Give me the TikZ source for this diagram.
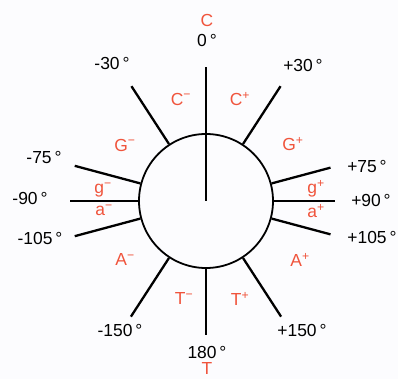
\documentclass[tikz,border=0pt]{standalone}
\usepackage{fontspec}
\setmainfont{Liberation Sans}
\definecolor{torsred}{RGB}{240,84,60}
\definecolor{paper}{RGB}{252,252,254}

\begin{document}
\begin{tikzpicture}[
    x=1bp, y=1bp,
    core/.style={circle, draw=black, line width=1.8bp, minimum size=134bp, inner sep=0pt},
    spoke/.style={draw=black, line width=2.3bp},
    deg/.style={inner sep=0pt, font=\fontsize{17.5}{20}\selectfont, text=black},
    conf/.style={inner sep=0pt, font=\fontsize{17.5}{20}\selectfont, text=torsred}
]

\fill [paper] (0,0) rectangle (398,379);
\useasboundingbox (0,0) rectangle (398,379);

% Circle
\node (ring) [core] at (206,178) {};

% Spokes
\draw [spoke] (ring.center) -- ++(90:134);
\draw [spoke] (ring.123) -- ++(123:69);
\draw [spoke] (ring.57) -- ++(57:69);
\draw [spoke] (ring.165) -- ++(165:68);
\draw [spoke] (ring.180) -- ++(180:68);
\draw [spoke] (ring.195) -- ++(195:68);
\draw [spoke] (ring.15) -- ++(15:61);
\draw [spoke] (ring.0) -- ++(0:61);
\draw [spoke] (ring.345) -- ++(345:61);
\draw [spoke] (ring.237) -- ++(237:70);
\draw [spoke] (ring.303) -- ++(303:70);
\draw [spoke] (ring.270) -- ++(270:66);

% Angle labels
\node (d0) [deg] at (207,339) {0\,°};
\node (dm30) [deg] at (112,316) {-30\,°};
\node (dp30) [deg] at (303,314) {+30\,°};
\node (dm75) [deg] at (44,222) {-75\,°};
\node (dm90) [deg] at (30,181) {-90\,°};
\node (dm105) [deg] at (40,141) {-105\,°};
\node (dp75) [deg] at (367,213) {+75\,°};
\node (dp90) [deg] at (371,179) {+90\,°};
\node (dp105) [deg] at (372,142) {+105\,°};
\node (dm150) [deg] at (120,49) {-150\,°};
\node (dp150) [deg] at (302,49) {+150\,°};
\node (d180) [deg] at (207,27) {180\,°};

% Conformer labels
\node (cis) [conf] at (207,359) {C};
\node (trans) [conf] at (207,10) {T};
\node (cm) [conf] at (181,280) {C\textsuperscript{−}};
\node (cp) [conf] at (240,280) {C\textsuperscript{+}};
\node (gm) [conf] at (125,234) {G\textsuperscript{−}};
\node (gp) [conf] at (293,235) {G\textsuperscript{+}};
\node (sgm) [conf] at (103,189) {g\textsuperscript{−}};
\node (sam) [conf] at (104,169) {a\textsuperscript{−}};
\node (sgp) [conf] at (316,190) {g\textsuperscript{+}};
\node (sap) [conf] at (316,168) {a\textsuperscript{+}};
\node (am) [conf] at (125,119) {A\textsuperscript{−}};
\node (ap) [conf] at (300,119) {A\textsuperscript{+}};
\node (tm) [conf] at (184,80) {T\textsuperscript{−}};
\node (tp) [conf] at (240,80) {T\textsuperscript{+}};

\end{tikzpicture}
\end{document}
